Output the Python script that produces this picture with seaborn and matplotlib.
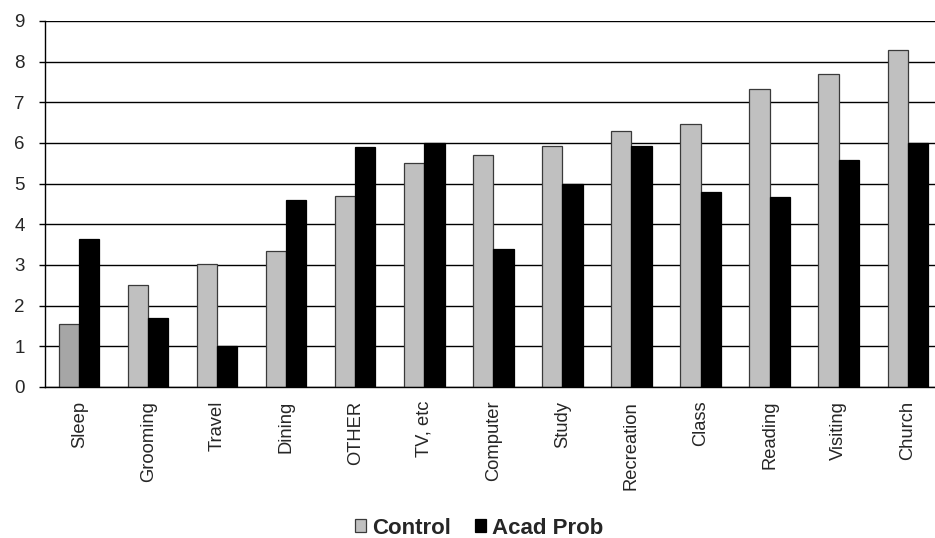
import numpy as np
import pandas as pd
import seaborn as sns
from matplotlib import pyplot as plt
from matplotlib.patches import Patch

categories = ["Sleep", "Grooming", "Travel", "Dining", "OTHER", "TV, etc", "Computer",
              "Study", "Recreation", "Class", "Reading", "Visiting", "Church"]
control = [1.55, 2.52, 3.02, 3.34, 4.70, 5.52, 5.71, 5.93, 6.29, 6.47, 7.32, 7.69, 8.29]
acad_prob = [3.64, 1.70, 1.00, 4.61, 5.91, 6.00, 3.40, 5.00, 5.93, 4.79, 4.66, 5.58, 6.00]
series = ["Control", "Acad Prob"]

df = pd.DataFrame({
    "activity": categories * 2,
    "value": control + acad_prob,
    "group": [series[0]] * len(categories) + [series[1]] * len(categories),
})

sns.set_style("white")
plt.rcParams['font.family'] = ['Liberation Sans', 'DejaVu Sans']

fig = plt.figure(figsize=(9.35, 5.38), dpi=100)
ax = fig.add_axes([0.0481, 0.2807, 0.9594, 0.6803])

sns.barplot(data=df, x="activity", y="value", hue="group", order=categories,
            hue_order=series, palette=["#C0C0C0", "#000000"], width=0.58,
            edgecolor="#000000", linewidth=0.9, saturation=1, legend=False, ax=ax)

# first Control bar is drawn in a darker grey in the original
n = len(categories)
bars = ax.patches[:2 * n]
bars[0].set_facecolor("#A6A6A6")
for b in bars[:n]:
    b.set_edgecolor("#3a3a3a")

ax.set_ylim(0, 9)
ax.set_xlim(-0.5, n - 0.5)
ax.set_yticks(range(10))
ax.yaxis.grid(True, color="black", linewidth=1.0)
ax.set_axisbelow(True)
for s in ["top", "right"]:
    ax.spines[s].set_visible(False)
for s in ["left", "bottom"]:
    ax.spines[s].set_color("black")
    ax.spines[s].set_linewidth(1.0)

ax.set_xticks(np.arange(n))
ax.set_xticklabels(categories, rotation=90, fontsize=13.2)
ax.tick_params(axis="x", length=0, pad=10)
ax.set_xticks(np.arange(n + 1) - 0.5, minor=True)
ax.tick_params(axis="x", which="minor", length=4, width=1, color="black", direction="out")
ax.tick_params(axis="y", labelsize=13.5, length=4.5, width=1, color="black", direction="out",
               pad=10, left=True)
ax.set_xlabel("")
ax.set_ylabel("")

handles = [Patch(facecolor="#C0C0C0", edgecolor="#3a3a3a", linewidth=0.9),
           Patch(facecolor="#000000", edgecolor="#000000", linewidth=0.9)]
fig.legend(handles, series, loc="center", bbox_to_anchor=(479 / 935, 1 - 528 / 538), ncol=2,
           frameon=False, handlelength=0.5, handleheight=0.5, handletextpad=0.25,
           columnspacing=1.1, borderpad=0, prop={"weight": "bold", "size": 16})

fig.savefig("out.png", dpi=100)
